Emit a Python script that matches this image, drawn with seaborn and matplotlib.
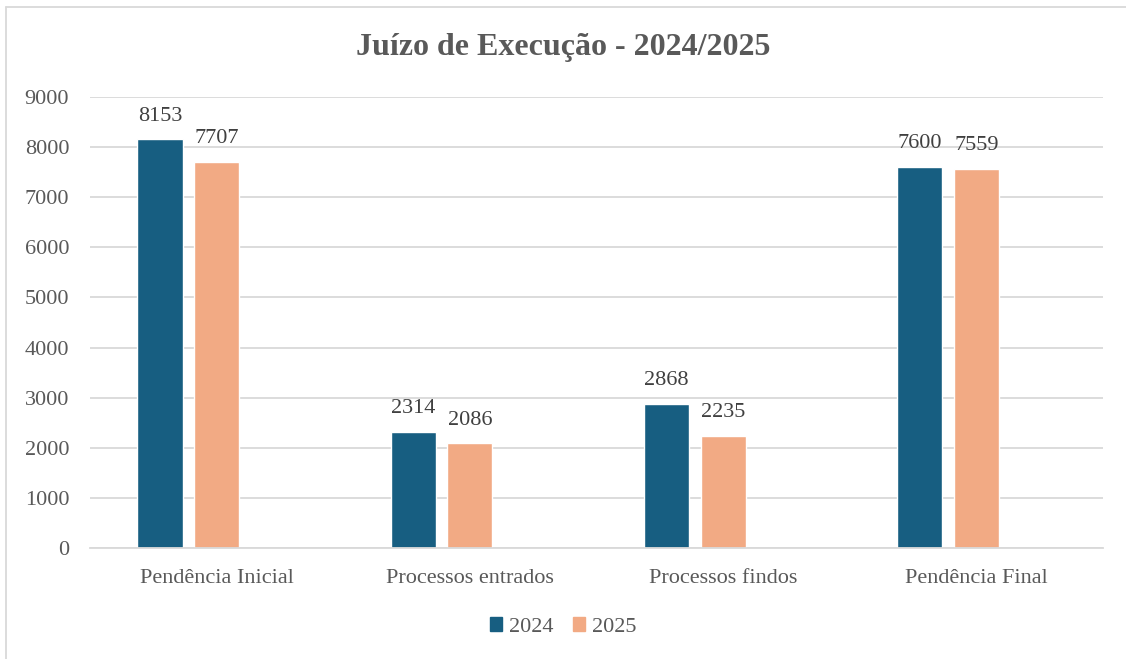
import matplotlib
matplotlib.use("Agg")
import matplotlib.pyplot as plt
import seaborn as sns
import pandas as pd
from matplotlib.lines import Line2D

# dados
categorias = ["Pendência Inicial", "Processos entrados", "Processos findos", "Pendência Final"]
valores_2024 = [8153, 2314, 2868, 7600]
valores_2025 = [7707, 2086, 2235, 7559]
anos = ["2024", "2025"]
cores = {"2024": "#175E81", "2025": "#F2AA84", " ": "#FFFFFF"}

df = pd.DataFrame({
    "categoria": categorias * 2,
    "ano": ["2024"] * 4 + ["2025"] * 4,
    "valor": valores_2024 + valores_2025,
})

sns.set_style("white")
plt.rcParams["font.family"] = ["Liberation Serif", "DejaVu Serif"]
cinza = "#595959"

fig = plt.figure(figsize=(11.26, 6.59), dpi=100)
ax = fig.add_axes([90 / 1126, 1 - 548 / 659, 1013 / 1126, 451 / 659])

# terceira série vazia no hue_order para reproduzir o deslocamento das barras
sns.barplot(data=df, x="categoria", y="valor", hue="ano", order=categorias,
            hue_order=["2024", "2025", " "], palette=cores, width=0.67, gap=0.2,
            saturation=1, legend=False, ax=ax, errorbar=None)

for cont in ax.containers:
    for bar in cont:
        h = bar.get_height()
        if h > 0:
            ax.annotate(f"{int(h)}", (bar.get_x() + bar.get_width() / 2, h),
                        xytext=(0, 10), textcoords="offset points",
                        ha="center", va="bottom", fontsize=16, color="#404040")

ax.set_ylim(0, 9000)
ax.set_xlim(-0.5, 3.5)
ax.set_yticks(range(0, 9001, 1000))
ax.yaxis.grid(True, color="#D9D9D9", linewidth=1.3)
ax.set_axisbelow(True)
for s in ["top", "right", "left"]:
    ax.spines[s].set_visible(False)
ax.spines["bottom"].set_color("#D9D9D9")
ax.spines["bottom"].set_linewidth(1.3)
ax.tick_params(axis="both", length=0, labelsize=16, labelcolor=cinza)
ax.tick_params(axis="y", pad=15)
ax.tick_params(axis="x", pad=15)
ax.set_xlabel("")
ax.set_ylabel("")

fig.text(0.5, 1 - 47 / 659, "Juízo de Execução - 2024/2025", ha="center", va="center",
         fontsize=23, fontweight="bold", color=cinza)

handles = [plt.Rectangle((0, 0), 1, 1, color=cores[a]) for a in anos]
fig.legend(handles, anos, loc="center", bbox_to_anchor=(0.5, 1 - 627 / 659), ncol=2,
           frameon=False, fontsize=16, labelcolor=cinza, handlelength=0.55,
           handleheight=0.55, handletextpad=0.3, columnspacing=0.9)

# moldura do gráfico (só topo e esquerda visíveis)
fig.add_artist(Line2D([6 / 1126, 1], [1 - 7 / 659, 1 - 7 / 659], color="#D9D9D9", lw=1.3,
                      transform=fig.transFigure))
fig.add_artist(Line2D([6 / 1126, 6 / 1126], [0, 1 - 7 / 659], color="#D9D9D9", lw=1.3,
                      transform=fig.transFigure))

fig.savefig("out.png", dpi=100)
